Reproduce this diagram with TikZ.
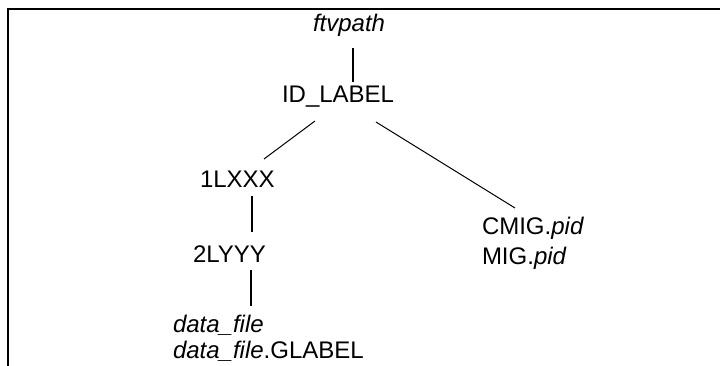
\documentclass[tikz,border=0pt]{standalone}
\usepackage{fontspec}
\setmainfont{Liberation Sans}
\usetikzlibrary{calc}
\begin{document}
\begin{tikzpicture}[x=1pt,y=1pt,
  lbl/.style={anchor=base west,inner sep=0pt,outer sep=0pt,font=\fontsize{24}{27}\selectfont},
  vconn/.style={line width=2pt},
  dconn/.style={line width=1pt},
  frameline/.style={line width=2.2pt}]
\useasboundingbox (0,0) rectangle (720,-366);
% frame (open at the bottom and right)
\draw[frameline] (8,-366) -- (8,-8.8) -- (720,-8.8);
% nodes
\node[lbl] (ftv) at (313,-32) {\itshape ftvpath};
\node[lbl] (id) at (282,-103) {ID\_LABEL};
\node[lbl] (l1) at (200,-188) {1LXXX};
\node[lbl] (l2) at (193,-262) {2LYYY};
\node[lbl] (data1) at (173,-332) {\itshape data\_file};
\node[lbl] (data2) at (173,-358) {\textit{data\_file}.GLABEL};
\node[lbl] (cmig) at (482,-235) {CMIG.\textit{pid}};
\node[lbl] (mig) at (482,-264) {MIG.\textit{pid}};
% connectors
\draw[vconn] ($(ftv.base west)+(40,-16)$) -- ($(id.base west)+(71,21)$);
\draw[dconn] ($(id.base west)+(33,-18)$) -- ($(l1.base west)+(64,29)$);
\draw[dconn] ($(id.base west)+(94,-19)$) -- ($(cmig.base west)+(33,27)$);
\draw[vconn] ($(l1.base west)+(51.7,-8)$) -- ($(l2.base west)+(58.7,30)$);
\draw[vconn] ($(l2.base west)+(57.7,-8)$) -- ($(data1.base west)+(77.7,26)$);
\end{tikzpicture}
\end{document}
